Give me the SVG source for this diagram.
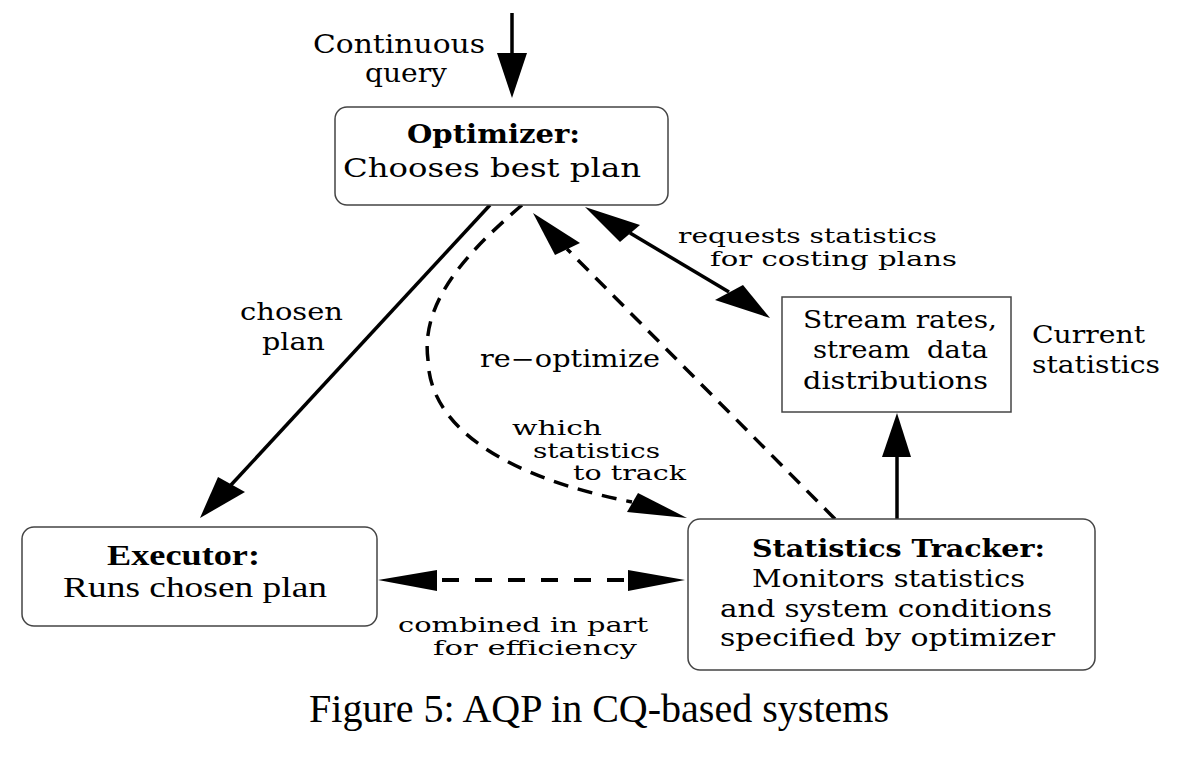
<svg xmlns="http://www.w3.org/2000/svg" width="1186" height="766" viewBox="0 0 1186 766">
<style>
  .box { fill: #ffffff; stroke: #444444; stroke-width: 1.5; }
  .c { font-family: "DejaVu Serif", "Liberation Serif", serif; font-size: 23.5px; fill: #000; }
  .s { font-size: 21px; }
  .cb { font-family: "DejaVu Serif", "Liberation Serif", serif; font-size: 24px; font-weight: bold; fill: #000; }
  .m { font-size: 26.5px; }
  .l { font-size: 26px; }
  .t { font-family: "Liberation Serif", "Times New Roman", serif; font-size: 29px; fill: #000; }
  .tb { font-family: "Liberation Serif", "Times New Roman", serif; font-size: 29px; font-weight: bold; fill: #000; }
  .cap { font-family: "Liberation Serif", "Times New Roman", serif; font-size: 40px; fill: #000; }
  .solid { stroke: #000; stroke-width: 3.5; fill: none; }
  .dash { stroke: #000; stroke-width: 3.5; fill: none; stroke-dasharray: 15 10; }
  .hdash { stroke: #000; stroke-width: 4; fill: none; stroke-dasharray: 17 16; }
  .head { fill: #000; stroke: none; }
</style>
<rect width="1186" height="766" fill="#ffffff"/>

<g id="connectors">
  <line class="solid" x1="512" y1="13" x2="512" y2="55"/>
  <polygon class="head" points="497,53 527,53 512,98"/>

  <line class="solid" x1="490" y1="205" x2="231" y2="485"/>
  <polygon class="head" points="200,518 218,477 245,492"/>

  <line class="solid" x1="630" y1="233" x2="729" y2="292"/>
  <polygon class="head" points="585,207 620,242 640,225"/>
  <polygon class="head" points="770,318 715,300 743,285"/>

  <line class="dash" x1="835" y1="519" x2="567" y2="249"/>
  <polygon class="head" points="533,213 555,255 580,243"/>

  <path class="dash" d="M522,205 C470,250 420,300 428,360 C430,430 510,478 632,502"/>
  <polygon class="head" points="687,518 627,512 638,493"/>

  <line class="solid" x1="897" y1="519" x2="897" y2="455"/>
  <polygon class="head" points="897,413 882,457 911,457"/>

  <line class="hdash" x1="442" y1="580" x2="628" y2="580"/>
  <polygon class="head" points="378,580 437,570 437,591"/>
  <polygon class="head" points="685,580 628,570 628,591"/>
</g>

<g id="label-input">
  <text class="c l" x="313" y="53" textLength="172" lengthAdjust="spacingAndGlyphs">Continuous</text>
  <text class="c l" x="365" y="82" textLength="82" lengthAdjust="spacingAndGlyphs">query</text>
</g>

<g id="optimizer">
  <rect class="box" x="335" y="107" width="333" height="98" rx="12"/>
  <text class="cb m" x="407" y="143" textLength="173" lengthAdjust="spacingAndGlyphs">Optimizer:</text>
  <text class="c m" x="343" y="177" textLength="298" lengthAdjust="spacingAndGlyphs">Chooses best plan</text>
</g>

<g id="statistics-store">
  <rect class="box" x="782" y="297" width="229" height="115"/>
  <text class="c" x="803" y="328" textLength="194" lengthAdjust="spacingAndGlyphs">Stream rates,</text>
  <text class="c" y="358"><tspan x="813" textLength="97" lengthAdjust="spacingAndGlyphs">stream</tspan><tspan x="927" textLength="61" lengthAdjust="spacingAndGlyphs">data</tspan></text>
  <text class="c" x="803" y="389" textLength="185" lengthAdjust="spacingAndGlyphs">distributions</text>
</g>

<g id="label-current">
  <text class="c" x="1032" y="343" textLength="113" lengthAdjust="spacingAndGlyphs">Current</text>
  <text class="c" x="1032" y="373" textLength="128" lengthAdjust="spacingAndGlyphs">statistics</text>
</g>

<g id="statistics-tracker">
  <rect class="box" x="688" y="519" width="407" height="151" rx="12"/>
  <text class="cb" x="752" y="557" textLength="293" lengthAdjust="spacingAndGlyphs">Statistics Tracker:</text>
  <text class="c" x="752" y="587" textLength="273" lengthAdjust="spacingAndGlyphs">Monitors statistics</text>
  <text class="c" x="720" y="617" textLength="332" lengthAdjust="spacingAndGlyphs">and system conditions</text>
  <text class="c" x="720" y="646" textLength="335" lengthAdjust="spacingAndGlyphs">specified by optimizer</text>
</g>

<g id="executor">
  <rect class="box" x="22" y="527" width="355" height="99" rx="12"/>
  <text class="tb" x="107" y="565" textLength="153" lengthAdjust="spacingAndGlyphs">Executor:</text>
  <text class="t" x="63" y="597" textLength="264" lengthAdjust="spacingAndGlyphs">Runs chosen plan</text>
</g>

<g id="edge-labels">
  <text class="c" x="240" y="320" textLength="103" lengthAdjust="spacingAndGlyphs">chosen</text>
  <text class="c" x="262" y="350" textLength="63" lengthAdjust="spacingAndGlyphs">plan</text>
  <text class="c" x="480" y="367" textLength="180" lengthAdjust="spacingAndGlyphs">re−optimize</text>
  <text class="c s" x="512" y="435" textLength="90" lengthAdjust="spacingAndGlyphs">which</text>
  <text class="c s" x="533" y="458" textLength="127" lengthAdjust="spacingAndGlyphs">statistics</text>
  <text class="c s" x="573" y="480" textLength="113" lengthAdjust="spacingAndGlyphs">to track</text>
  <text class="c s" x="678" y="243" textLength="259" lengthAdjust="spacingAndGlyphs">requests statistics</text>
  <text class="c s" x="710" y="266" textLength="247" lengthAdjust="spacingAndGlyphs">for costing plans</text>
  <text class="c s" x="398" y="632" textLength="250" lengthAdjust="spacingAndGlyphs">combined in part</text>
  <text class="c s" x="433" y="655" textLength="204" lengthAdjust="spacingAndGlyphs">for efficiency</text>
</g>

<g id="caption">
  <text class="cap" x="309" y="722" textLength="580" lengthAdjust="spacingAndGlyphs">Figure 5: AQP in CQ-based systems</text>
</g>
</svg>
